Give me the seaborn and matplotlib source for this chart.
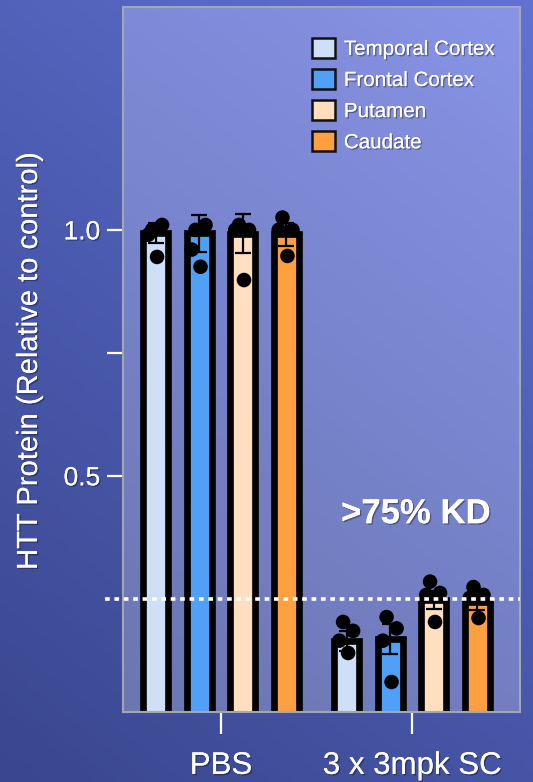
import numpy as np
import pandas as pd
import matplotlib
matplotlib.use("Agg")
import matplotlib.pyplot as plt
import matplotlib.patheffects as pe
from matplotlib.colors import LinearSegmentedColormap
from matplotlib.container import BarContainer
import seaborn as sns

# ---------------- data ----------------
groups = ["PBS", "3 x 3mpk SC"]
regions = ["Temporal Cortex", "Frontal Cortex", "Putamen", "Caudate"]
region_colors = ["#cde0f8", "#50a0f8", "#ffdfc0", "#ffa040"]

mean_pbs = [0.993, 0.993, 0.992, 0.991]
mean_kd = [0.165, 0.168, 0.248, 0.243]
sem_pbs = [0.020, 0.037, 0.040, 0.023]
sem_kd = [0.020, 0.030, 0.018, 0.015]

points_pbs = [
    [1.00, 1.01, 0.99, 0.945],
    [1.00, 1.01, 0.96, 0.925],
    [1.01, 1.00, 1.00, 0.898],
    [1.025, 1.00, 1.00, 0.947],
]
points_kd = [
    [0.203, 0.185, 0.165, 0.140],
    [0.213, 0.190, 0.165, 0.081],
    [0.285, 0.262, 0.258, 0.203],
    [0.274, 0.258, 0.252, 0.211],
]

yticks = [0.5, 0.75, 1.0]
ytick_labels = ["0.5", "", "1.0"]
kd_threshold = 0.25
annotation = ">75% KD"
ylabel = "HTT Protein (Relative to control)"

# ---------------- table ----------------
rows = []
for gi, (means, sems) in enumerate([(mean_pbs, sem_pbs), (mean_kd, sem_kd)]):
    for ri, r in enumerate(regions):
        rows.append({"group": groups[gi], "region": r, "value": means[ri], "sem": sems[ri]})
df = pd.DataFrame(rows)

# ---------------- figure ----------------
sns.set_theme(style="white")
plt.rcParams["font.family"] = ["Liberation Sans", "DejaVu Sans"]

W, H = 533, 782
fig = plt.figure(figsize=(W / 100, H / 100), dpi=100)

# figure background gradient (dark bottom-left -> lighter top-right)
bg = fig.add_axes([0, 0, 1, 1], zorder=-10)
bg.set_axis_off()
yy, xx = np.mgrid[0:1:200j, 0:1:200j]
grad = 0.65 * yy + 0.35 * xx
cmap_bg = LinearSegmentedColormap.from_list("bg", ["#3a468e", "#4b5bb0", "#6272d2"])
bg.imshow(grad, cmap=cmap_bg, origin="lower", extent=[0, 1, 0, 1], aspect="auto")
bg.set_xlim(0, 1)
bg.set_ylim(0, 1)

ax = fig.add_axes([123 / W, (H - 712) / H, 397 / W, 705 / H])
ax.patch.set_alpha(0)

# axes background gradient
grad2 = 0.7 * yy + 0.3 * xx
cmap_ax = LinearSegmentedColormap.from_list("axbg", ["#6b77b0", "#7884cc", "#8894e6"])
ax.imshow(grad2, cmap=cmap_ax, origin="lower", extent=[0, 1, 0, 1],
          transform=ax.transAxes, aspect="auto", zorder=-5)

sns.barplot(data=df, x="group", y="value", hue="region", order=groups,
            hue_order=regions, palette=region_colors, saturation=1, width=0.91,
            gap=0.425, edgecolor="black", linewidth=4.8, errorbar=None, ax=ax, zorder=2)

# error bars and points at the bar centres seaborn produced
sems_all = [sem_pbs, sem_kd]
pts_all = [points_pbs, points_kd]
offsets = [-0.15, 0.25, -0.3, 0.05]
bar_containers = [c for c in ax.containers if isinstance(c, BarContainer)]
for ri, cont in enumerate(bar_containers):
    for gi, bar in enumerate(cont.patches):
        cx = bar.get_x() + bar.get_width() / 2
        h = bar.get_height()
        ax.errorbar([cx], [h], yerr=[sems_all[gi][ri]], fmt="none", ecolor="black",
                    elinewidth=1.6, capsize=6, capthick=1.6, zorder=3)
        pts = pts_all[gi][ri]
        xs = [cx + o * bar.get_width() for o in offsets[:len(pts)]]
        ax.scatter(xs, pts, s=110, color="black", edgecolor="none", zorder=4)

ax.set_xlim(-0.513, 1.565)
ax.set_ylim(0.02, 1.453)

# threshold dotted line
ax.axhline(kd_threshold, xmin=-0.045, xmax=1.0, color="white", lw=2.6,
           linestyle=(0, (1.3, 1.3)), clip_on=False, zorder=5)

shadow = [pe.withSimplePatchShadow(offset=(1, -1), shadow_rgbFace="black", alpha=0.35), pe.Normal()]

ax.text(1.02, 0.423, annotation, color="white", fontsize=25, fontweight="bold",
        ha="center", va="center", path_effects=shadow, zorder=6)

ax.set_yticks(yticks)
ax.set_yticklabels(ytick_labels)
ax.set_xticks([0, 1])
ax.set_xticklabels(groups)
ax.tick_params(axis="y", colors="white", labelsize=19, length=11.5, width=1.6,
               pad=5, direction="out", left=True)
ax.tick_params(axis="x", colors="white", labelsize=22.5, length=16, width=1.6,
               pad=12, direction="out", bottom=True)
for lab in ax.get_xticklabels() + ax.get_yticklabels():
    lab.set_path_effects(shadow)

ax.set_xlabel("")
ax.set_ylabel(ylabel, color="white", fontsize=21, path_effects=shadow)
ax.yaxis.set_label_coords(-(123 - 43) / 397, (712 - 361) / 705)

for sp in ax.spines.values():
    sp.set_color("#a3a6b4")
    sp.set_linewidth(1.5)
    sp.set_visible(True)

handles, labels = ax.get_legend_handles_labels()
leg = ax.legend(handles, labels, loc="upper left",
                bbox_to_anchor=((312 - 123) / 397, (712 - 38) / 705),
                frameon=False, handlelength=1.1, handleheight=1.1,
                handletextpad=0.45, labelspacing=0.5, borderpad=0, borderaxespad=0,
                prop={"family": ["Liberation Sans", "DejaVu Sans"], "size": 14.8})
for h in leg.legend_handles:
    h.set_linewidth(1.8)
    h.set_edgecolor("#111111")
for t in leg.get_texts():
    t.set_color("white")
    t.set_path_effects(shadow)

fig.savefig("out.png", dpi=100)
